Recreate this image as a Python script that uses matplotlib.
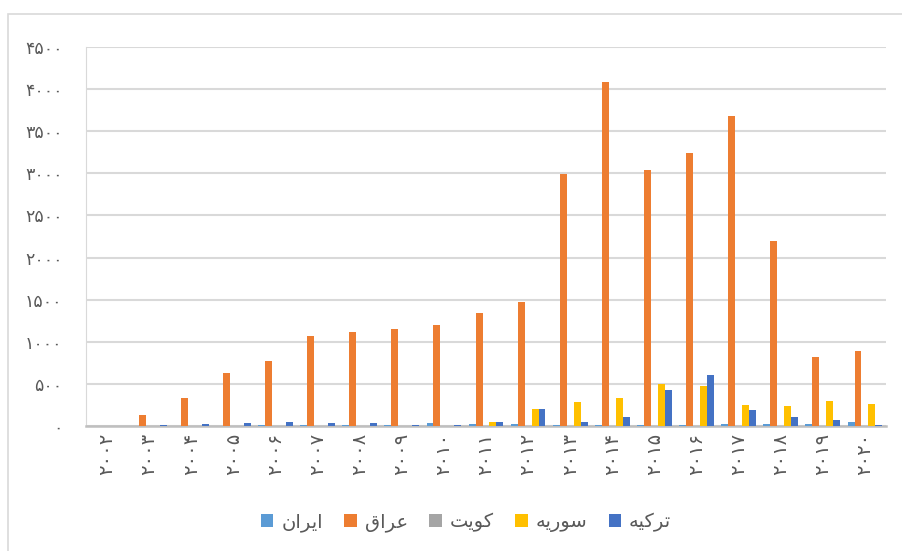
import numpy as np
import matplotlib
matplotlib.use('Agg')
import matplotlib.pyplot as plt
from matplotlib.patches import Rectangle

years = list(range(2002, 2021))
countries = ['ایران', 'عراق', 'کویت', 'سوریه', 'ترکیه']
colors = ['#5B9BD5', '#ED7D31', '#A5A5A5', '#FFC000', '#4472C4']

iran = [0, 0, 0, 0, 15, 12, 12, 12, 40, 20, 20, 12, 12, 12, 12, 20, 25, 25, 45]
iraq = [0, 130, 335, 624, 770, 1070, 1122, 1150, 1197, 1337, 1477, 2998,
        4088, 3034, 3247, 3685, 2192, 817, 889]
kuwait = [0] * 19
syria = [0, 0, 0, 0, 0, 0, 0, 0, 0, 45, 201, 288, 332, 501, 478, 249, 241, 296, 257]
turkey = [0, 10, 20, 35, 45, 30, 30, 10, 10, 45, 200, 45, 103, 430, 600, 190, 103, 71, 15]
series = [iran, iraq, kuwait, syria, turkey]

y_ticks = list(range(0, 4501, 500))

# persian digits and a tiny hand-made arabic shaper (matplotlib has no bidi)
fa_digits = str.maketrans('0123456789', '۰۱۲۳۴۵۶۷۸۹')
forms = {  # isolated, final, initial, medial
    'ا': ('\uFE8D', '\uFE8E', None, None),
    'ر': ('\uFEAD', '\uFEAE', None, None),
    'و': ('\uFEED', '\uFEEE', None, None),
    'ی': ('\uFBFC', '\uFBFD', '\uFBFE', '\uFBFF'),
    'ن': ('\uFEE5', '\uFEE6', '\uFEE7', '\uFEE8'),
    'ع': ('\uFEC9', '\uFECA', '\uFECB', '\uFECC'),
    'ق': ('\uFED5', '\uFED6', '\uFED7', '\uFED8'),
    'ک': ('\uFB8E', '\uFB8F', '\uFB90', '\uFB91'),
    'ت': ('\uFE95', '\uFE96', '\uFE97', '\uFE98'),
    'س': ('\uFEB1', '\uFEB2', '\uFEB3', '\uFEB4'),
    'ه': ('\uFEE9', '\uFEEA', '\uFEEB', '\uFEEC'),
}


def shape(word):
    out = []
    for i, ch in enumerate(word):
        f = forms[ch]
        prev_joins = i > 0 and forms[word[i - 1]][2] is not None
        next_joins = i < len(word) - 1 and f[2] is not None
        if prev_joins and next_joins:
            out.append(f[3])
        elif prev_joins:
            out.append(f[1])
        elif next_joins:
            out.append(f[2])
        else:
            out.append(f[0])
    return ''.join(reversed(out))


fig = plt.figure(figsize=(9.03, 5.51), dpi=100)
ax = fig.add_axes([86 / 903, 1 - 426 / 551, (886 - 86) / 903, (426 - 47) / 551])

# chart frame
fig.patches.append(Rectangle((8 / 903, -0.1), 1.2, 1 - 14 / 551 + 0.1, transform=fig.transFigure,
                             fill=False, edgecolor='#D9D9D9', linewidth=1.2))

x = np.arange(len(years))
w = 0.165
for k in range(5):
    ax.bar(x + (k - 2) * w, series[k], width=w, color=colors[k], label=shape(countries[k]), zorder=3)

ax.set_xlim(-0.5, len(years) - 0.5)
ax.set_ylim(0, 4500)
ax.set_yticks(y_ticks)
ax.set_yticklabels([str(v).translate(fa_digits) for v in y_ticks], fontsize=12.5)
ax.set_xticks(x)
ax.set_xticklabels([str(y).translate(fa_digits) for y in years], rotation=90, fontsize=14)
ax.tick_params(axis='both', length=0, labelcolor='#595959')
ax.tick_params(axis='y', pad=17)
ax.tick_params(axis='x', pad=5)
ax.grid(axis='y', color='#D9D9D9', linewidth=1.5, zorder=0)
for s in ['top', 'right']:
    ax.spines[s].set_visible(False)
ax.spines['left'].set_color('#D9D9D9')
ax.spines['bottom'].set_color('#BFBFBF')
ax.spines['bottom'].set_linewidth(1.8)

fig.legend(loc='center', bbox_to_anchor=(466 / 903, 1 - 522 / 551), ncol=5, frameon=False,
           fontsize=14, labelcolor='#595959', handlelength=0.65, handleheight=0.65,
           handletextpad=0.4, columnspacing=1.1)

fig.savefig('out.png', dpi=100)
